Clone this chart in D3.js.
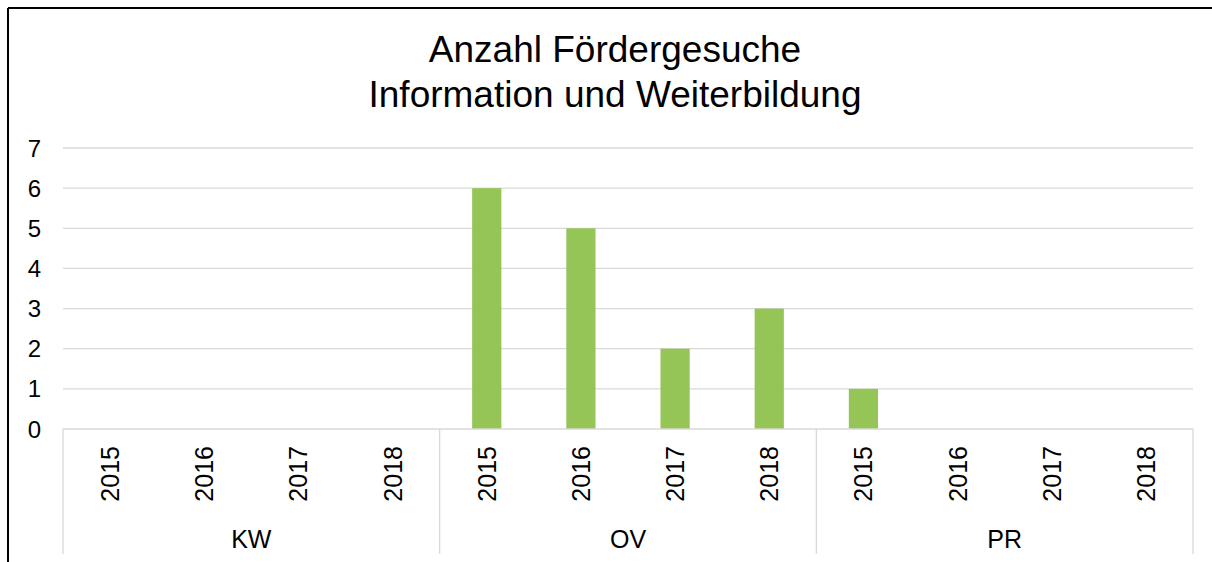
<!DOCTYPE html>
<html>
<head>
<meta charset="utf-8">
<script src="https://cdn.jsdelivr.net/npm/d3@7"></script>
<style>
  html, body { margin: 0; padding: 0; background: #fff; }
  svg { display: block; font-family: "Liberation Sans", Arial, sans-serif; }
</style>
</head>
<body>
<svg id="chart" width="1212" height="562"></svg>
<script>
// ---- data ----
const titleLines = ["Anzahl Fördergesuche", "Information und Weiterbildung"];
const groups = ["KW", "OV", "PR"];
const years = ["2015", "2016", "2017", "2018"];
const valuesKW = [0, 0, 0, 0];
const valuesOV = [6, 5, 2, 3];
const valuesPR = [1, 0, 0, 0];
const yTicks = [0, 1, 2, 3, 4, 5, 6, 7];

const seriesByGroup = { KW: valuesKW, OV: valuesOV, PR: valuesPR };
const rows = [];
groups.forEach(g => years.forEach((yr, i) => rows.push({ group: g, year: yr, key: g + "-" + yr, value: seriesByGroup[g][i] })));

// ---- layout ----
const W = 1212, H = 562;
const pLeft = 63, pRight = 1193, pTop = 148, pBottom = 429;
const svg = d3.select("#chart");

const x = d3.scaleBand().domain(rows.map(d => d.key)).range([pLeft, pRight])
  .paddingInner(0.69).paddingOuter(0.345);
const y = d3.scaleLinear().domain([0, 7]).range([pBottom, pTop]);

// gridlines
svg.append("g").selectAll("line").data(yTicks.filter(t => t > 0)).join("line")
  .attr("x1", pLeft).attr("x2", pRight)
  .attr("y1", d => y(d)).attr("y2", d => y(d))
  .attr("stroke", "#d9d9d9").attr("stroke-width", 1.3);

// y tick labels
svg.append("g").selectAll("text").data(yTicks).join("text")
  .attr("x", 41).attr("y", d => y(d))
  .attr("text-anchor", "end").attr("dominant-baseline", "central")
  .attr("font-size", 24).attr("fill", "#000")
  .text(d => d);

// bars
svg.append("g").selectAll("rect").data(rows.filter(d => d.value > 0)).join("rect")
  .attr("x", d => x(d.key)).attr("width", x.bandwidth())
  .attr("y", d => y(d.value)).attr("height", d => y(0) - y(d.value))
  .attr("fill", "#94c556");

// baseline
svg.append("line").attr("x1", pLeft).attr("x2", pRight).attr("y1", pBottom).attr("y2", pBottom)
  .attr("stroke", "#d9d9d9").attr("stroke-width", 1.3);

// group separators
const step = x.step();
const sepX = [0, 4, 8, 12].map(i => pLeft + i * step);
svg.append("g").selectAll("line").data(sepX).join("line")
  .attr("x1", d => d).attr("x2", d => d).attr("y1", pBottom).attr("y2", 554)
  .attr("stroke", "#d9d9d9").attr("stroke-width", 1.3);

// year labels (rotated)
svg.append("g").selectAll("text").data(rows).join("text")
  .attr("transform", d => `translate(${x(d.key) + x.bandwidth() / 2},446) rotate(-90)`)
  .attr("text-anchor", "end").attr("dominant-baseline", "central")
  .attr("font-size", 25).attr("fill", "#000")
  .text(d => d.year);

// group labels
svg.append("g").selectAll("text").data(groups).join("text")
  .attr("x", (d, i) => pLeft + (i * 4 + 2) * step).attr("y", 548)
  .attr("text-anchor", "middle").attr("font-size", 25).attr("fill", "#000")
  .text(d => d);

// title
svg.append("g").selectAll("text").data(titleLines).join("text")
  .attr("x", 615).attr("y", (d, i) => 62 + i * 45)
  .attr("text-anchor", "middle").attr("font-size", 37).attr("fill", "#000")
  .text(d => d);

// chart border (left & top visible)
svg.append("line").attr("x1", 8).attr("x2", W).attr("y1", 8).attr("y2", 8)
  .attr("stroke", "#000").attr("stroke-width", 2);
svg.append("line").attr("x1", 8).attr("x2", 8).attr("y1", 8).attr("y2", H)
  .attr("stroke", "#000").attr("stroke-width", 2);
</script>
</body>
</html>
